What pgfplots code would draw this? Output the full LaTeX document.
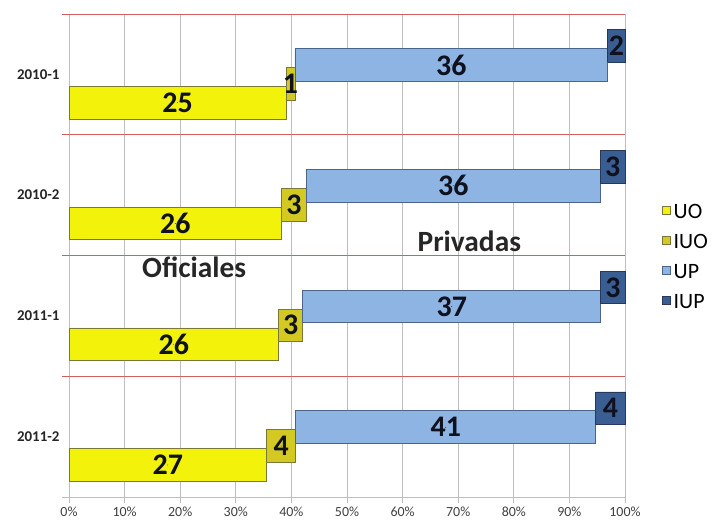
\documentclass[border=0pt]{standalone}
\usepackage{fontspec}
\setmainfont{Carlito}
\usepackage{pgfplots}
\pgfplotsset{compat=1.18}

\definecolor{cUO}{RGB}{242,242,10}
\definecolor{cIUO}{RGB}{212,200,35}
\definecolor{cUP}{RGB}{141,180,226}
\definecolor{cIUP}{RGB}{58,94,145}
\definecolor{bUO}{RGB}{120,120,60}
\definecolor{bUP}{RGB}{75,100,140}
\definecolor{bIUP}{RGB}{40,55,90}
\definecolor{redline}{RGB}{210,95,95}
\definecolor{gridc}{RGB}{190,190,190}
\definecolor{labc}{RGB}{15,17,30}

\begin{document}
\begin{tikzpicture}
\begin{axis}[
  at={(0,0)}, anchor=south west,
  scale only axis, width=556bp, height=483bp,
  xmin=0, xmax=100, ymin=0.5, ymax=4.5,
  axis lines=left, axis line style={-, draw=gridc, line width=0.8bp},
  clip=false,
  xtick={0,10,...,100},
  xticklabels={0\%,10\%,20\%,30\%,40\%,50\%,60\%,70\%,80\%,90\%,100\%},
  xmajorgrids, major x grid style={draw=gridc, line width=0.8bp},
  ytick={1,2,3,4},
  yticklabels={2011-2,2011-1,2010-2,2010-1},
  tick align=outside,
  major tick length=6bp,
  x tick style={draw=gridc, line width=0.8bp},
  y tick style={draw=none},
  x tick label style={font=\fontsize{14}{16}\selectfont, text=black!75},
  y tick label style={font=\bfseries\fontsize{15}{17}\selectfont, text=black!85},
  legend style={at={(1,0.5)}, anchor=west, xshift=37bp, draw=none, fill=none,
    inner sep=0pt, font=\fontsize{22}{24}\selectfont, row sep=12bp,
    nodes={inner sep=1bp, text height=16bp, text depth=0bp}},
  legend cell align=left,
  legend image code/.code={\draw[#1, line width=0.6bp] (0bp,-4bp) rectangle (8bp,4bp);
    \path (10bp,0bp);},
]
\addlegendimage{fill=cUO, draw=bUO}
\addlegendentry{UO}
\addlegendimage{fill=cIUO, draw=bUO}
\addlegendentry{IUO}
\addlegendimage{fill=cUP, draw=bUP}
\addlegendentry{UP}
\addlegendimage{fill=cIUP, draw=bIUP}
\addlegendentry{IUP}

% separator lines
\addplot[redline, line width=0.8bp, forget plot] coordinates {(-1.3,4.5) (100,4.5)};
\addplot[redline, line width=0.8bp, forget plot] coordinates {(-1.3,3.5) (100,3.5)};
\addplot[redline, line width=0.8bp, forget plot] coordinates {(-1.3,2.5) (100,2.5)};
\addplot[redline, line width=0.8bp, forget plot] coordinates {(-1.3,1.5) (100,1.5)};
\addplot[gridc, line width=0.8bp, forget plot] coordinates {(-1.3,0.5) (0,0.5)};

% 2010-1 (y=4): 25, 1, 36, 2 of 64
\addplot[fill=cUO, draw=bUO, line width=0.7bp, forget plot] coordinates {(0,3.63) (39.06,3.63) (39.06,3.90) (0,3.90) (0,3.63)};
\addplot[fill=cIUO, draw=bUO, line width=0.7bp, forget plot] coordinates {(39.06,3.7865) (40.63,3.7865) (40.63,4.0565) (39.06,4.0565) (39.06,3.7865)};
\addplot[fill=cUP, draw=bUP, line width=0.7bp, forget plot] coordinates {(40.63,3.9435) (96.88,3.9435) (96.88,4.2135) (40.63,4.2135) (40.63,3.9435)};
\addplot[fill=cIUP, draw=bIUP, line width=0.7bp, forget plot] coordinates {(96.88,4.10) (100,4.10) (100,4.37) (96.88,4.37) (96.88,4.10)};
% 2010-2 (y=3): 26, 3, 36, 3 of 68
\addplot[fill=cUO, draw=bUO, line width=0.7bp, forget plot] coordinates {(0,2.63) (38.24,2.63) (38.24,2.90) (0,2.90) (0,2.63)};
\addplot[fill=cIUO, draw=bUO, line width=0.7bp, forget plot] coordinates {(38.24,2.7865) (42.65,2.7865) (42.65,3.0565) (38.24,3.0565) (38.24,2.7865)};
\addplot[fill=cUP, draw=bUP, line width=0.7bp, forget plot] coordinates {(42.65,2.9435) (95.59,2.9435) (95.59,3.2135) (42.65,3.2135) (42.65,2.9435)};
\addplot[fill=cIUP, draw=bIUP, line width=0.7bp, forget plot] coordinates {(95.59,3.10) (100,3.10) (100,3.37) (95.59,3.37) (95.59,3.10)};
% 2011-1 (y=2): 26, 3, 37, 3 of 69
\addplot[fill=cUO, draw=bUO, line width=0.7bp, forget plot] coordinates {(0,1.63) (37.68,1.63) (37.68,1.90) (0,1.90) (0,1.63)};
\addplot[fill=cIUO, draw=bUO, line width=0.7bp, forget plot] coordinates {(37.68,1.7865) (42.03,1.7865) (42.03,2.0565) (37.68,2.0565) (37.68,1.7865)};
\addplot[fill=cUP, draw=bUP, line width=0.7bp, forget plot] coordinates {(42.03,1.9435) (95.65,1.9435) (95.65,2.2135) (42.03,2.2135) (42.03,1.9435)};
\addplot[fill=cIUP, draw=bIUP, line width=0.7bp, forget plot] coordinates {(95.65,2.10) (100,2.10) (100,2.37) (95.65,2.37) (95.65,2.10)};
% 2011-2 (y=1): 27, 4, 41, 4 of 76
\addplot[fill=cUO, draw=bUO, line width=0.7bp, forget plot] coordinates {(0,0.63) (35.53,0.63) (35.53,0.90) (0,0.90) (0,0.63)};
\addplot[fill=cIUO, draw=bUO, line width=0.7bp, forget plot] coordinates {(35.53,0.7865) (40.79,0.7865) (40.79,1.0565) (35.53,1.0565) (35.53,0.7865)};
\addplot[fill=cUP, draw=bUP, line width=0.7bp, forget plot] coordinates {(40.79,0.9435) (94.74,0.9435) (94.74,1.2135) (40.79,1.2135) (40.79,0.9435)};
\addplot[fill=cIUP, draw=bIUP, line width=0.7bp, forget plot] coordinates {(94.74,1.10) (100,1.10) (100,1.37) (94.74,1.37) (94.74,1.10)};

% value labels
\addplot[only marks, mark=*, mark size=0.1pt, mark options={draw=none, fill=none}, forget plot,
  nodes near coords, point meta=explicit symbolic,
  every node near coord/.append style={anchor=center, inner sep=0pt, text=labc,
    font=\bfseries\fontsize{30}{32}\selectfont}]
coordinates {
(19.53,3.765) [25] (39.84,3.922) [1] (68.75,4.078) [36] (98.44,4.235) [2]
(19.12,2.765) [26] (40.44,2.922) [3] (69.12,3.078) [36] (97.79,3.235) [3]
(18.84,1.765) [26] (39.86,1.922) [3] (68.84,2.078) [37] (97.83,2.235) [3]
(17.76,0.765) [27] (38.16,0.922) [4] (67.76,1.078) [41] (97.37,1.235) [4]
};

\node[font=\bfseries\fontsize{29.5}{31}\selectfont, text=black!85] at (axis cs:22.5,2.40) {Oficiales};
\node[font=\bfseries\fontsize{29.5}{31}\selectfont, text=black!85] at (axis cs:72,2.616) {Privadas};
\end{axis}
\pgfresetboundingbox
\path[use as bounding box] (-69bp,-26bp) rectangle (654bp,497bp);
\end{tikzpicture}
\end{document}
